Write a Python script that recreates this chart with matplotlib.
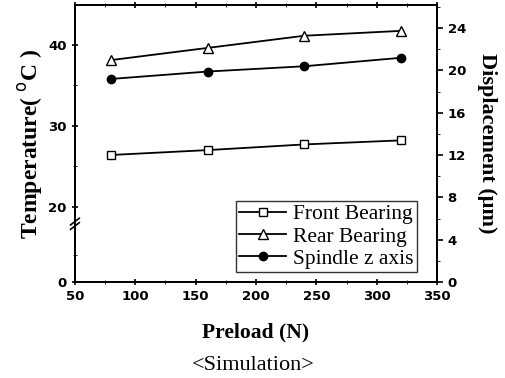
import matplotlib
matplotlib.use('Agg')
import matplotlib.pyplot as plt
from matplotlib.ticker import FixedLocator, MultipleLocator

# data
preload = [80, 160, 240, 320]
front_bearing = [26.4, 27.0, 27.7, 28.2]   # temperature (C)
rear_bearing = [38.1, 39.6, 41.1, 41.7]    # temperature (C)
spindle_z = [19.2, 19.9, 20.4, 21.2]       # displacement (um)

left_ticks = [20, 30, 40]
right_ticks = [0, 4, 8, 12, 16, 20, 24]
x_ticks = [50, 100, 150, 200, 250, 300, 350]

# broken left axis: bottom of axis stands for 0
left_bottom = 10.74
left_top = 44.9

fig = plt.figure(figsize=(5.06, 3.78), dpi=100)
ax = fig.add_axes([0.148, 0.254, 0.716, 0.733])
ax2 = ax.twinx()

l1, = ax.plot(preload, front_bearing, marker='s', markersize=6, color='black',
              markerfacecolor='white', linewidth=1.3, label='Front Bearing')
l2, = ax.plot(preload, rear_bearing, marker='^', markersize=7, color='black',
              markerfacecolor='white', linewidth=1.3, label='Rear Bearing')
l3, = ax2.plot(preload, spindle_z, marker='o', markersize=6, color='black',
               linewidth=1.3, label='Spindle z axis')

ax.set_xlim(50, 350)
ax.set_ylim(left_bottom, left_top)
ax2.set_ylim(0, 26.2)

ax.yaxis.set_major_locator(FixedLocator([left_bottom] + left_ticks))
ax.set_yticklabels(['0'] + [str(t) for t in left_ticks])
ax.yaxis.set_minor_locator(FixedLocator([14.1, 25, 35]))
ax.xaxis.set_major_locator(FixedLocator(x_ticks))
ax.xaxis.set_minor_locator(MultipleLocator(25))
ax2.yaxis.set_major_locator(FixedLocator(right_ticks))
ax2.yaxis.set_minor_locator(MultipleLocator(2))

tick_font = {'family': 'DejaVu Sans', 'weight': 'bold', 'size': 9.5}
for lab in ax.get_xticklabels() + ax.get_yticklabels() + ax2.get_yticklabels():
    lab.set_fontproperties(tick_font)

ax.tick_params(axis='y', which='major', direction='inout', length=5, width=1.2)
ax.tick_params(axis='y', which='minor', direction='inout', length=3)
ax.tick_params(axis='x', which='major', direction='inout', length=5, width=1.2, top=True)
ax.tick_params(axis='x', which='minor', direction='inout', length=3, top=True)
ax2.tick_params(axis='y', which='major', direction='out', length=4, width=1.2)
ax2.tick_params(axis='y', which='minor', direction='out', length=2)

for a in (ax, ax2):
    for s in a.spines.values():
        s.set_linewidth(1.3)

# break mark on the left spine
for dy in (-0.008, 0.008):
    yb = 0.21 + dy
    ax.plot([-0.012, 0.012], [yb - 0.012, yb + 0.012], transform=ax.transAxes,
            color='black', linewidth=1.2, clip_on=False)

ax.set_xlabel('Preload (N)', family='Liberation Serif', fontweight='bold', fontsize=15.5, labelpad=14)
ax.set_ylabel('Temperature( $^{\\rm o}$C )', family='Liberation Serif', fontweight='bold', fontsize=17,
              labelpad=2)
ax2.set_ylabel('Displacement (\u03bcm)', family='Liberation Serif', fontweight='bold', fontsize=16,
               rotation=270, labelpad=22)

fig.text(0.50, 0.022, '<Simulation>', family='Liberation Serif', fontsize=16, ha='center')

leg = ax.legend(handles=[l1, l2, l3], loc='lower right', bbox_to_anchor=(0.955, 0.02),
                prop={'family': 'Liberation Serif', 'size': 15.5}, frameon=True, fancybox=False,
                edgecolor='black', borderpad=0.15, labelspacing=0.1, handlelength=2.2,
                handletextpad=0.3, borderaxespad=0.2)
leg.get_frame().set_linewidth(1.0)

fig.savefig('out.png', dpi=100)
